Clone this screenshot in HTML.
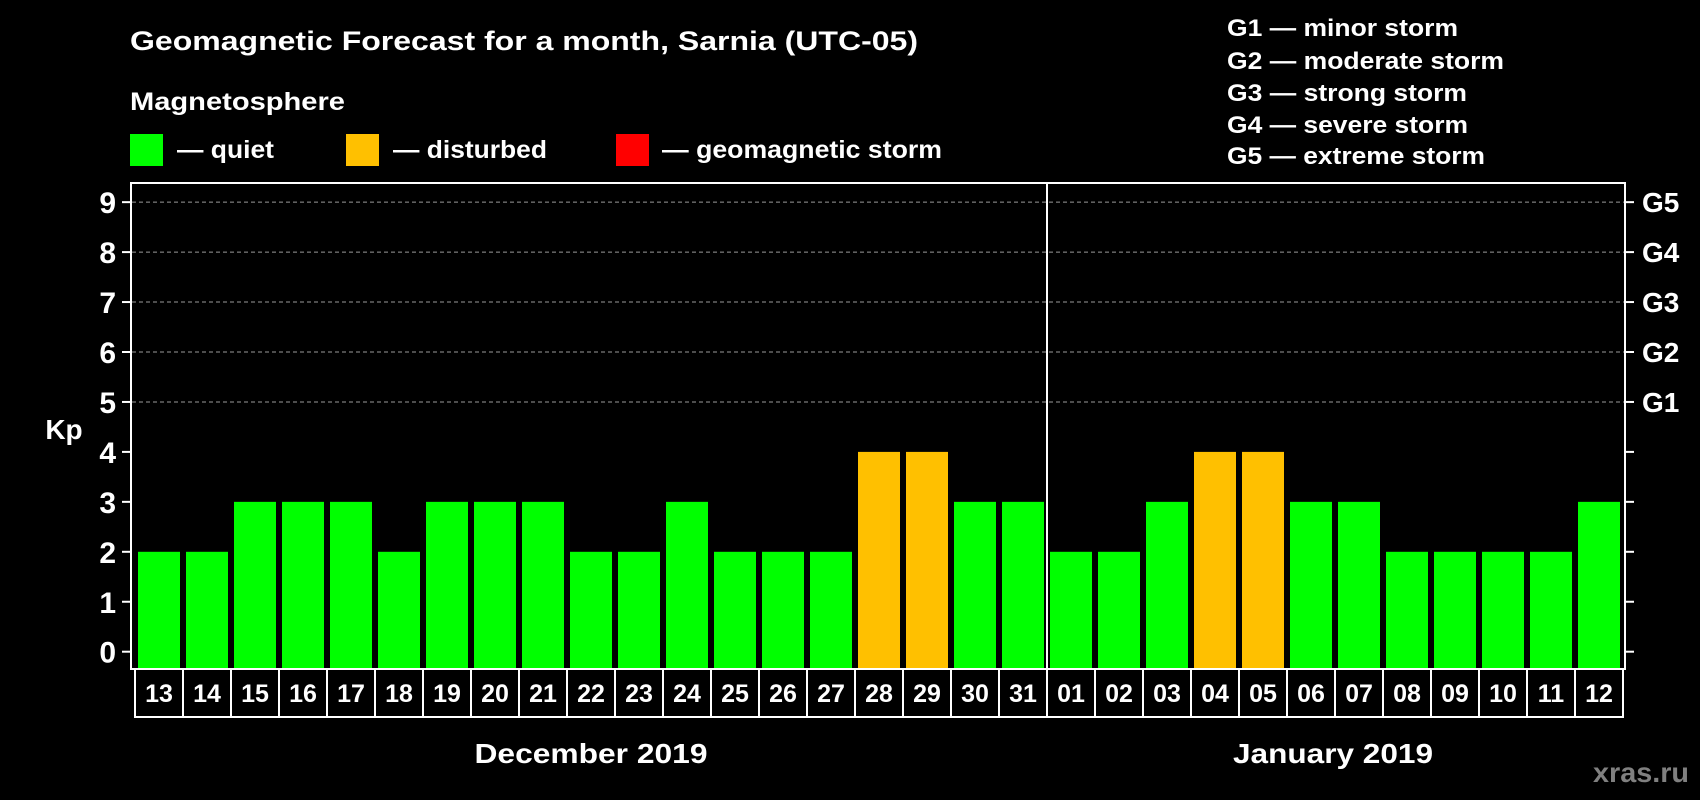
<!DOCTYPE html>
<html><head><meta charset="utf-8"><style>
html,body{margin:0;padding:0;background:#000;}
svg{display:block;font-family:"Liberation Sans",Arial,sans-serif;font-weight:bold;}
</style></head><body>
<svg id="chart" width="1700" height="800" viewBox="0 0 1700 800">
<rect x="0" y="0" width="1700" height="800" fill="#000"/>
<text x="130" y="50" font-size="27" fill="#fff" textLength="788" lengthAdjust="spacingAndGlyphs">Geomagnetic Forecast for a month, Sarnia (UTC-05)</text>
<text x="130" y="110" font-size="25" fill="#fff" textLength="215" lengthAdjust="spacingAndGlyphs">Magnetosphere</text>
<g>
<rect x="130" y="134" width="33" height="32" fill="#00ff00"/>
<text x="177" y="158" font-size="25" fill="#fff" textLength="97" lengthAdjust="spacingAndGlyphs">— quiet</text></g>
<g>
<rect x="346" y="134" width="33" height="32" fill="#ffc000"/>
<text x="393" y="158" font-size="25" fill="#fff" textLength="154" lengthAdjust="spacingAndGlyphs">— disturbed</text></g>
<g>
<rect x="616" y="134" width="33" height="32" fill="#ff0000"/>
<text x="662" y="158" font-size="25" fill="#fff" textLength="280" lengthAdjust="spacingAndGlyphs">— geomagnetic storm</text></g>
<g font-size="24" fill="#fff">
<text x="1227" y="36" textLength="231" lengthAdjust="spacingAndGlyphs">G1 — minor storm</text>
<text x="1227" y="69" textLength="277" lengthAdjust="spacingAndGlyphs">G2 — moderate storm</text>
<text x="1227" y="101" textLength="240" lengthAdjust="spacingAndGlyphs">G3 — strong storm</text>
<text x="1227" y="133" textLength="241" lengthAdjust="spacingAndGlyphs">G4 — severe storm</text>
<text x="1227" y="164" textLength="258" lengthAdjust="spacingAndGlyphs">G5 — extreme storm</text>
</g>
<g id="grid"></g>
<g id="bars"></g>
<rect x="131" y="183" width="1494" height="486" fill="none" stroke="#fff" stroke-width="2"/>
<line x1="1047" y1="183" x2="1047" y2="669" stroke="#fff" stroke-width="2"/>
<g id="yaxis"></g>
<g id="raxis"></g>
<g id="xaxis"></g>
<text x="64" y="439" font-size="28" fill="#fff" text-anchor="middle">Kp</text>
<text x="591" y="763" font-size="28" fill="#fff" text-anchor="middle" textLength="233" lengthAdjust="spacingAndGlyphs">December 2019</text>
<text x="1333" y="763" font-size="28" fill="#fff" text-anchor="middle" textLength="200" lengthAdjust="spacingAndGlyphs">January 2019</text>
<text x="1689" y="782" font-size="28" fill="#808080" text-anchor="end" textLength="96" lengthAdjust="spacingAndGlyphs">xras.ru</text>
</svg>
<script>
const days = ["13","14","15","16","17","18","19","20","21","22","23","24","25","26","27","28","29","30","31","01","02","03","04","05","06","07","08","09","10","11","12"];
const kpValues = [2,2,3,3,3,2,3,3,3,2,2,3,2,2,2,4,4,3,3,2,2,3,4,4,3,3,2,2,2,2,3];
const yTicks = [0,1,2,3,4,5,6,7,8,9];
const gLevels = [5,6,7,8,9];
const gLabels = ["G1","G2","G3","G4","G5"];

const NS = "http://www.w3.org/2000/svg";
const y0 = 651.7, unit = 49.95, barBottom = 668;
const x0 = 138, step = 48, barW = 42;
function yScale(v){ return y0 - v*unit; }
function xScale(i){ return x0 + i*step; }
function mk(tag, attrs){ const e=document.createElementNS(NS,tag); for(const k in attrs) e.setAttribute(k,attrs[k]); return e; }
function colorFor(v){ return v>=5 ? "#ff0000" : (v>=4 ? "#ffc000" : "#00ff00"); }

const grid=document.getElementById("grid");
gLevels.forEach(function(v){
  const l=mk("line",{x1:132,x2:1624,y1:yScale(v),y2:yScale(v),stroke:"#9a9a9a","stroke-width":1,"stroke-dasharray":"4,3"});
  
  
  grid.appendChild(l);
});
const bars=document.getElementById("bars");
kpValues.forEach(function(v,i){
  const r=mk("rect",{x:xScale(i),y:yScale(v),width:barW,height:barBottom-yScale(v),fill:colorFor(v)});
  
  
  bars.appendChild(r);
});
const ya=document.getElementById("yaxis");
yTicks.forEach(function(v){
  const t=mk("line",{x1:122,x2:131,y1:yScale(v),y2:yScale(v),stroke:"#fff","stroke-width":2});
  
  
  ya.appendChild(t);
  const tx=mk("text",{x:116,y:yScale(v)+11,"font-size":30,fill:"#fff","text-anchor":"end"});
  tx.textContent=String(v);
  
  
  ya.appendChild(tx);
});
const ra=document.getElementById("raxis");
yTicks.forEach(function(v){
  const t=mk("line",{x1:1625,x2:1634,y1:yScale(v),y2:yScale(v),stroke:"#fff","stroke-width":2});
  
  
  ra.appendChild(t);
});
gLevels.forEach(function(v,i){
  const tx=mk("text",{x:1642,y:yScale(v)+10,"font-size":28,fill:"#fff"});
  tx.textContent=gLabels[i];
  
  
  ra.appendChild(tx);
});
const xa=document.getElementById("xaxis");
days.forEach(function(d,i){
  const bx=135+i*step;
  const r=mk("rect",{x:bx,y:669,width:step,height:48,fill:"none",stroke:"#fff","stroke-width":2});
  
  
  xa.appendChild(r);
  const tx=mk("text",{x:bx+step/2,y:702,"font-size":25,fill:"#fff","text-anchor":"middle"});
  tx.textContent=d;
  
  
  xa.appendChild(tx);
});
</script>
</body></html>
